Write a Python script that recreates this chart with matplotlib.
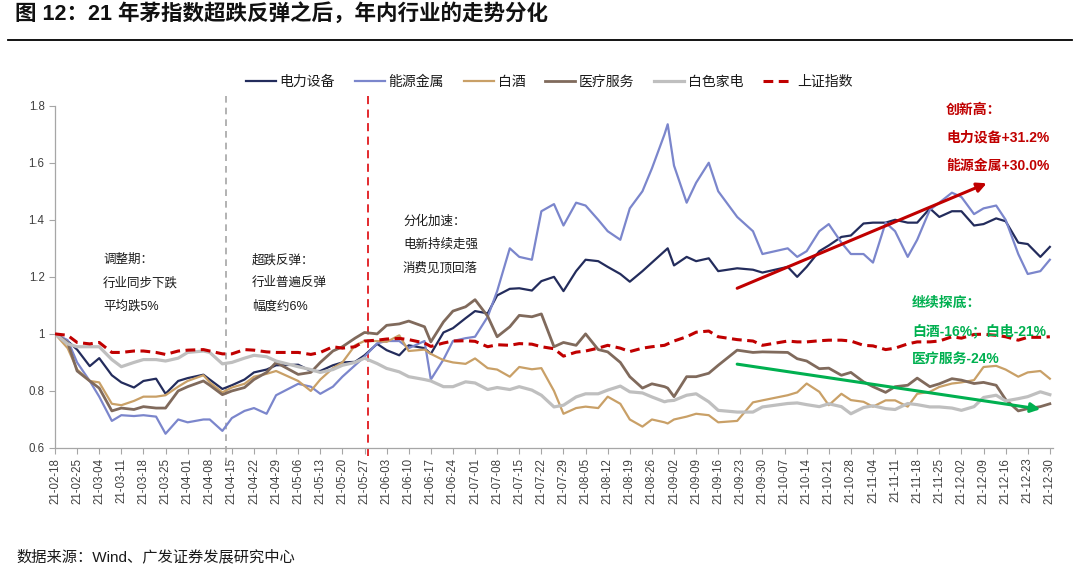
import matplotlib
matplotlib.use('Agg')
import matplotlib.pyplot as plt
import matplotlib.dates as mdates
import pandas as pd

plt.rcParams['font.family'] = ['Liberation Sans', 'Noto Sans CJK SC', 'DejaVu Sans']

# ---------------- data ----------------
dates = ['2021-02-18', '2021-02-22', '2021-02-25',
         '2021-03-01', '2021-03-04', '2021-03-08', '2021-03-11', '2021-03-15', '2021-03-18', '2021-03-22', '2021-03-25', '2021-03-29',
         '2021-04-01', '2021-04-06', '2021-04-08', '2021-04-12', '2021-04-15', '2021-04-19', '2021-04-22', '2021-04-26', '2021-04-29',
         '2021-05-06', '2021-05-10', '2021-05-13', '2021-05-17', '2021-05-20', '2021-05-24', '2021-05-27', '2021-05-31',
         '2021-06-03', '2021-06-07', '2021-06-10', '2021-06-15', '2021-06-17', '2021-06-21', '2021-06-24', '2021-06-28',
         '2021-07-01', '2021-07-05', '2021-07-08', '2021-07-12', '2021-07-15', '2021-07-19', '2021-07-22', '2021-07-26', '2021-07-29',
         '2021-08-02', '2021-08-05', '2021-08-09', '2021-08-12', '2021-08-16', '2021-08-19', '2021-08-23', '2021-08-26', '2021-08-30', '2021-08-31',
         '2021-09-02', '2021-09-06', '2021-09-09', '2021-09-13', '2021-09-16', '2021-09-22', '2021-09-27', '2021-09-30',
         '2021-10-08', '2021-10-11', '2021-10-14', '2021-10-18', '2021-10-21', '2021-10-25', '2021-10-28',
         '2021-11-01', '2021-11-04', '2021-11-08', '2021-11-11', '2021-11-15', '2021-11-18', '2021-11-22', '2021-11-25', '2021-11-29',
         '2021-12-02', '2021-12-06', '2021-12-09', '2021-12-13', '2021-12-16', '2021-12-20', '2021-12-23', '2021-12-27', '2021-12-30']

elec = [1.00, 0.975, 0.945,
        0.887, 0.915, 0.855, 0.83, 0.812, 0.835, 0.843, 0.79, 0.835,
        0.845, 0.857, 0.84, 0.807, 0.82, 0.84, 0.865, 0.875, 0.89,
        0.892, 0.87, 0.87, 0.89, 0.90, 0.902, 0.925, 0.965,
        0.943, 0.925, 0.96, 0.95, 0.93, 1.005, 1.02, 1.055,
        1.08, 1.072, 1.135, 1.158, 1.16, 1.152, 1.185, 1.20, 1.15,
        1.22, 1.26, 1.255, 1.235, 1.21, 1.183, 1.22, 1.25, 1.29, 1.30,
        1.24, 1.27, 1.255, 1.265, 1.22, 1.23, 1.225, 1.215,
        1.235, 1.20, 1.235, 1.29, 1.31, 1.34, 1.345,
        1.387, 1.39, 1.39, 1.40, 1.39, 1.39, 1.44, 1.41, 1.43,
        1.43, 1.38, 1.385, 1.405, 1.395, 1.32, 1.315, 1.27, 1.305]

metal = [1.00, 0.978, 0.90,
         0.835, 0.78, 0.695, 0.715, 0.712, 0.715, 0.71, 0.65, 0.70,
         0.69, 0.70, 0.70, 0.66, 0.705, 0.73, 0.74, 0.72, 0.785,
         0.825, 0.815, 0.79, 0.815, 0.85, 0.89, 0.92, 0.967,
         0.975, 0.975, 0.95, 0.975, 0.84, 0.91, 0.975, 0.985,
         0.99, 1.06, 1.15, 1.30, 1.27, 1.26, 1.43, 1.455, 1.38,
         1.46, 1.45, 1.40, 1.36, 1.33, 1.44, 1.50, 1.58, 1.70, 1.735,
         1.59, 1.46, 1.53, 1.60, 1.50, 1.41, 1.36, 1.28,
         1.30, 1.27, 1.29, 1.36, 1.385, 1.32, 1.28,
         1.28, 1.25, 1.39, 1.36, 1.27, 1.33, 1.435, 1.46, 1.495,
         1.48, 1.42, 1.44, 1.45, 1.40, 1.28, 1.21, 1.22, 1.26]

baijiu = [1.00, 0.95, 0.875,
          0.835, 0.83, 0.755, 0.75, 0.765, 0.78, 0.78, 0.785, 0.815,
          0.835, 0.855, 0.83, 0.795, 0.812, 0.825, 0.85, 0.86, 0.87,
          0.835, 0.80, 0.84, 0.88, 0.90, 0.96, 0.975, 0.975,
          0.972, 0.995, 0.94, 0.945, 0.93, 0.908, 0.90, 0.895,
          0.914, 0.88, 0.875, 0.85, 0.884, 0.876, 0.88, 0.80, 0.72,
          0.74, 0.745, 0.74, 0.78, 0.755, 0.70, 0.675, 0.70, 0.69, 0.686,
          0.70, 0.71, 0.72, 0.715, 0.69, 0.695, 0.76, 0.767,
          0.785, 0.795, 0.826, 0.797, 0.75, 0.79, 0.768,
          0.762, 0.745, 0.767, 0.767, 0.745, 0.79, 0.797, 0.814, 0.826,
          0.83, 0.838, 0.884, 0.888, 0.875, 0.85, 0.865, 0.87, 0.843]

medical = [1.00, 0.97, 0.87,
           0.835, 0.81, 0.73, 0.74, 0.735, 0.745, 0.74, 0.74, 0.80,
           0.815, 0.835, 0.82, 0.787, 0.80, 0.812, 0.84, 0.865, 0.90,
           0.858, 0.865, 0.90, 0.94, 0.955, 0.985, 1.005, 1.0,
           1.03, 1.035, 1.045, 1.025, 0.972, 1.042, 1.08, 1.095,
           1.12, 1.062, 0.99, 1.025, 1.065, 1.06, 1.07, 0.955, 0.97,
           0.96, 1.0, 0.945, 0.937, 0.90, 0.85, 0.81, 0.825, 0.815, 0.81,
           0.78, 0.85, 0.85, 0.862, 0.89, 0.943, 0.935, 0.937,
           0.935, 0.913, 0.905, 0.878, 0.88, 0.855, 0.865,
           0.832, 0.815, 0.795, 0.815, 0.82, 0.845, 0.815, 0.825, 0.843,
           0.838, 0.826, 0.83, 0.82, 0.77, 0.73, 0.738, 0.745, 0.755]

appliance = [1.00, 0.965, 0.955,
             0.955, 0.955, 0.91, 0.885, 0.90, 0.91, 0.91, 0.905, 0.915,
             0.935, 0.94, 0.935, 0.895, 0.90, 0.915, 0.925, 0.92, 0.905,
             0.885, 0.875, 0.865, 0.875, 0.89, 0.90, 0.915, 0.896,
             0.879, 0.867, 0.85, 0.84, 0.835, 0.815, 0.815, 0.832,
             0.828, 0.805, 0.812, 0.805, 0.815, 0.803, 0.785, 0.744, 0.75,
             0.779, 0.79, 0.79, 0.803, 0.817, 0.797, 0.793, 0.779, 0.762, 0.765,
             0.767, 0.785, 0.79, 0.762, 0.732, 0.726, 0.726, 0.744,
             0.756, 0.758, 0.752, 0.745, 0.755, 0.745, 0.72,
             0.742, 0.748, 0.738, 0.735, 0.756, 0.752, 0.744, 0.744, 0.74,
             0.732, 0.745, 0.777, 0.785, 0.765, 0.773, 0.78, 0.797, 0.787]

shindex = [1.00, 0.995, 0.97,
           0.965, 0.97, 0.935, 0.935, 0.94, 0.94, 0.935, 0.928, 0.94,
           0.943, 0.945, 0.94, 0.93, 0.93, 0.945, 0.943, 0.937, 0.935,
           0.935, 0.928, 0.935, 0.955, 0.95, 0.955, 0.975, 0.978,
           0.982, 0.984, 0.98, 0.968, 0.956, 0.968, 0.975, 0.976,
           0.974, 0.955, 0.962, 0.96, 0.966, 0.964, 0.955, 0.948, 0.922,
           0.936, 0.94, 0.95, 0.96, 0.95, 0.938, 0.95, 0.955, 0.96, 0.965,
           0.975, 0.99, 1.006, 1.01, 0.99, 0.98, 0.975, 0.96,
           0.975, 0.972, 0.972, 0.976, 0.978, 0.978, 0.975,
           0.96, 0.958, 0.945, 0.95, 0.965, 0.972, 0.972, 0.975, 0.99,
           0.985, 0.998, 0.999, 0.995, 0.99, 0.978, 0.988, 0.988, 0.99]

series_names = ['电力设备', '能源金属', '白酒', '医疗服务', '白色家电', '上证指数']
series_values = [elec, metal, baijiu, medical, appliance, shindex]

phase_lines = ['2021-04-13', '2021-05-28']

red_arrow = (('2021-09-22', 1.16), ('2021-12-10', 1.528))
green_arrow = (('2021-09-22', 0.894), ('2021-12-27', 0.736))

# ---------------- styles ----------------
colors = ['#232C5C', '#7B86CC', '#C9A067', '#806A5C', '#BFBFBF', '#C00000']
widths = [1.6, 1.6, 1.6, 2.0, 2.3, 2.2]
CJK = ['Noto Sans CJK SC', 'DejaVu Sans']
MIX = ['Liberation Sans', 'Noto Sans CJK SC', 'DejaVu Sans']

W, H = 1080, 566
fig = plt.figure(figsize=(W / 100, H / 100), dpi=100)
ax = fig.add_axes([55 / W, 1 - 448 / H, (1053 - 55) / W, (448 - 105.7) / H])

x = pd.to_datetime(dates)
for i, (name, vals) in enumerate(zip(series_names, series_values)):
    assert len(vals) == len(dates)
    kw = dict(color=colors[i], lw=widths[i], label=name, zorder=3 + i)
    if name == '上证指数':
        kw.update(ls=(0, (3.2, 1.8)))
    ax.plot(x, vals, **kw)

ax.set_xlim(pd.Timestamp('2021-02-18'), pd.Timestamp('2021-12-31'))
ax.set_ylim(0.6, 1.8)
ax.set_yticks([0.6, 0.8, 1.0, 1.2, 1.4, 1.6, 1.8])
ax.set_yticklabels(['%g' % v for v in [0.6, 0.8, 1.0, 1.2, 1.4, 1.6, 1.8]])
xt = pd.date_range('2021-02-18', '2021-12-30', freq='7D')
ax.set_xticks(xt)
ax.set_xticklabels([d.strftime('%y-%m-%d') for d in xt], rotation=90)
ax.tick_params(axis='both', colors='#A6A6A6', labelcolor='#404040', labelsize=8.3,
               length=4, width=0.8, direction='out')
ax.tick_params(axis='x', pad=3)
for s in ['top', 'right']:
    ax.spines[s].set_visible(False)
for s in ['left', 'bottom']:
    ax.spines[s].set_color('#A6A6A6')
    ax.spines[s].set_linewidth(0.9)

# phase separators (extend slightly outside the plot area)
ax.plot([pd.Timestamp(phase_lines[0])] * 2, [1.834, 0.548], color='#A6A6A6', lw=1.2,
        ls=(0, (4, 3)), clip_on=False, zorder=2)
ax.plot([pd.Timestamp(phase_lines[1])] * 2, [1.834, 0.572], color='#E0191E', lw=1.3,
        ls=(0, (4.5, 3)), clip_on=False, zorder=2)

# trend arrows
(s0, v0), (s1, v1) = red_arrow
ax.annotate('', xy=(pd.Timestamp(s1), v1), xytext=(pd.Timestamp(s0), v0),
            arrowprops=dict(arrowstyle='-|>', color='#C00000', lw=2.2, mutation_scale=14,
                            shrinkA=0, shrinkB=0), zorder=20)
(s0, v0), (s1, v1) = green_arrow
ax.annotate('', xy=(pd.Timestamp(s1), v1), xytext=(pd.Timestamp(s0), v0),
            arrowprops=dict(arrowstyle='-|>', color='#00B050', lw=2.2, mutation_scale=14,
                            shrinkA=0, shrinkB=0), zorder=20)

# legend
leg = fig.legend(loc='center', bbox_to_anchor=(549 / W, 1 - 82 / H), ncol=6, frameon=False,
                 prop={'family': CJK, 'size': 10}, handlelength=2.2, handletextpad=0.25,
                 columnspacing=1.4)
for t in leg.get_texts():
    t.set_color('#1A1A1A')

# title and rule
fig.text(15 / W, 1 - 14 / H, '图 12：21 年茅指数超跌反弹之后，年内行业的走势分化', family=MIX,
         fontsize=15.5, fontweight='bold', va='center', ha='left', color='#111111')
fig.add_artist(plt.Line2D([8 / W, 1072 / W], [1 - 40 / H, 1 - 40 / H], color='black', lw=1.3))

# phase notes
def note(px, py, s, color='#1A1A1A', size=9, weight='normal'):
    fig.text(px / W, 1 - py / H, s, family=MIX, fontsize=size, color=color,
             fontweight=weight, va='center', ha='left')

for i, s in enumerate(['调整期：', '行业同步下跌', '平均跌5%']):
    note(103, 260 + i * 23, s)
for i, s in enumerate(['超跌反弹：', '行业普遍反弹', '幅度约6%']):
    note(252, 260 + i * 23, s)
for i, s in enumerate(['分化加速：', '电新持续走强', '消费见顶回落']):
    note(403, 222 + i * 23, s)
for i, s in enumerate(['创新高：', '电力设备+31.2%', '能源金属+30.0%']):
    note(946, 110 + i * 28, s, color='#C00000', size=10, weight='bold')
for i, s in enumerate(['继续探底：', '白酒-16%；白电-21%', '医疗服务-24%']):
    note(912, 303 + i * 27.8, s, color='#00B050', size=10, weight='bold')

fig.text(16 / W, 1 - 557 / H, '数据来源：Wind、广发证券发展研究中心', family=MIX, fontsize=11,
         va='center', ha='left', color='#1A1A1A')

fig.savefig('out.png', dpi=100)
